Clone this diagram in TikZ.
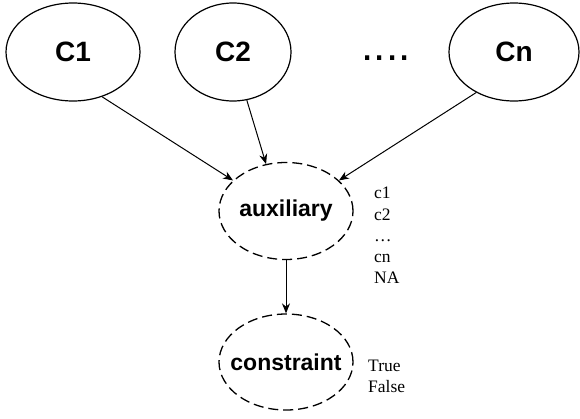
\documentclass[tikz,border=0pt]{standalone}
\usepackage{fontspec}
\setmainfont{Liberation Serif}
\newfontfamily\arialfont{Liberation Sans}
\usetikzlibrary{shapes.geometric,arrows.meta}
\tikzset{
  cnode/.style={ellipse,draw,line width=1.2pt,inner sep=0pt,minimum height=98pt,font=\arialfont\bfseries\fontsize{28}{30}\selectfont},
  dnode/.style={ellipse,draw,line width=1.3pt,dash pattern=on 10pt off 5pt,inner ysep=0pt,inner xsep=-12pt,minimum width=134pt,font=\arialfont\bfseries\fontsize{23}{26}\selectfont},
  conn/.style={line width=1pt,-{Stealth[length=10pt,width=8pt]}},
  vals/.style={font=\fontsize{17.5}{21.3}\selectfont,align=left,anchor=north west,inner sep=0pt}
}
\begin{document}
\begin{tikzpicture}[x=1pt,y=-1pt]
\useasboundingbox (0,0) rectangle (580,418);
\node[cnode,minimum width=134pt] (c1) at (73,52) {C1};
\node[cnode,minimum width=116pt] (c2) at (233,52) {C2};
\node[cnode,minimum width=130pt] (cn) at (514,52) {Cn};
\node[font=\arialfont\fontsize{44}{48}\selectfont,inner sep=0pt,anchor=base] (dots) at (386,60) {....};
\node[vals] (auxv) at (374,187) {c1\\c2\\\dots\\cn\\NA};
\node[vals] (conv) at (368,360) {True\\False};
\node[dnode,minimum height=97pt] (aux) at (286,211) {auxiliary};
\node[dnode,minimum height=96pt] (con) at (286,362) {constraint};
\draw[conn] (c1.-57) -- (aux.150);
\draw[conn] (c2.-74) -- (aux.113);
\draw[conn] (cn.-133) -- (aux.30);
\draw[conn] (aux.south) -- (con.north);
\end{tikzpicture}
\end{document}
